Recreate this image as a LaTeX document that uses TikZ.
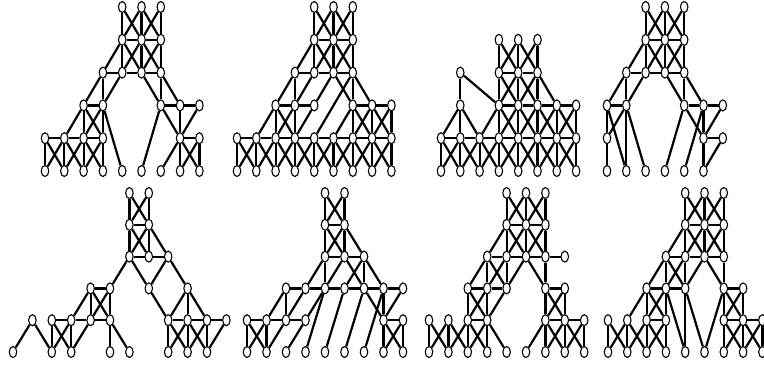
\documentclass[tikz,border=0pt]{standalone}
\usetikzlibrary{shapes.geometric}
\tikzset{vtx/.style={ellipse,draw,fill=white,line width=1.1pt,inner sep=0pt,minimum width=7.5pt,minimum height=11pt},
 edg/.style={line width=2.2pt}}
\newcommand\Nds[6]{\foreach \r/\c in {#6}{\node[vtx] (#1-\r-\c) at ({#2+\c*#4},{#3+\r*#5}) {};}}
\newcommand\vX[4]{\pgfmathtruncatemacro\myrr{#2+1}\pgfmathtruncatemacro\mylc{#4-1}%
 \foreach \c in {#3,...,#4}{\draw[edg] (#1-#2-\c) -- (#1-\myrr-\c);}%
 \foreach \c in {#3,...,\mylc}{\pgfmathtruncatemacro\mycc{\c+1}\draw[edg] (#1-#2-\c) -- (#1-\myrr-\mycc); \draw[edg] (#1-#2-\mycc) -- (#1-\myrr-\c);}}
\newcommand\hC[4]{\pgfmathtruncatemacro\mylc{#4-1}\foreach \c in {#3,...,\mylc}{\pgfmathtruncatemacro\mycc{\c+1}\draw[edg] (#1-#2-\c) -- (#1-#2-\mycc);}}
\newcommand\Ed[2]{\foreach \ra/\ca/\rb/\cb in {#2}{\draw[edg] (#1-\ra-\ca) -- (#1-\rb-\cb);}}
\begin{document}
\begin{tikzpicture}[x=1pt,y=-1pt]
\useasboundingbox[fill=white] (0,0) rectangle (764,365);
% ---------- Panel 1 ----------
\Nds{P1}{45}{7}{19.3}{32.8}{0/4,0/5,0/6,1/4,1/5,1/6,2/3,2/4,2/5,2/6,3/2,3/3,3/6,3/7,3/8,4/0,4/1,4/2,4/3,4/7,4/8,5/0,5/1,5/2,5/3,5/4,5/5,5/6,5/7,5/8}
\vX{P1}{0}{4}{6}\hC{P1}{1}{4}{6}\vX{P1}{1}{4}{6}\Ed{P1}{1/4/2/3}
\hC{P1}{2}{3}{6}
\Ed{P1}{2/3/3/2,2/3/3/3,2/4/3/3,2/5/3/6,2/6/3/6,2/6/3/7}
\hC{P1}{3}{2}{3}\hC{P1}{3}{6}{8}
\vX{P1}{3}{2}{3}
\Ed{P1}{3/2/4/1,3/3/5/4,3/6/5/5,3/6/4/7,3/7/4/7,3/8/4/7}
\hC{P1}{4}{0}{3}\hC{P1}{4}{7}{8}
\vX{P1}{4}{0}{3}\vX{P1}{4}{7}{8}\Ed{P1}{4/7/5/6}
% ---------- Panel 2 ----------
\Nds{P2}{237}{7}{19.3}{32.8}{0/4,0/5,0/6,1/4,1/5,1/6,2/3,2/4,2/5,2/6,3/2,3/3,3/4,3/6,3/7,3/8,4/0,4/1,4/2,4/3,4/4,4/5,4/6,4/7,4/8,5/0,5/1,5/2,5/3,5/4,5/5,5/6,5/7,5/8}
\vX{P2}{0}{4}{6}\hC{P2}{1}{4}{6}\vX{P2}{1}{4}{6}\Ed{P2}{1/4/2/3}
\hC{P2}{2}{3}{6}
\Ed{P2}{2/3/3/2,2/3/3/3,2/4/3/3,2/5/3/4,2/5/3/6,2/6/3/6,2/6/3/7,2/6/4/4}
\hC{P2}{3}{2}{4}\hC{P2}{3}{6}{8}
\vX{P2}{3}{2}{3}\Ed{P2}{3/2/4/1,3/4/4/3,3/6/4/5}\vX{P2}{3}{6}{8}
\hC{P2}{4}{0}{8}
\vX{P2}{4}{0}{8}
% ---------- Panel 3 ----------
\Nds{P3}{441}{7}{19.3}{32.8}{1/3,1/4,1/5,2/1,2/3,2/4,2/5,3/1,3/3,3/4,3/5,3/6,3/7,4/0,4/1,4/2,4/3,4/4,4/5,4/6,4/7,5/0,5/1,5/2,5/3,5/4,5/5,5/6,5/7}
\vX{P3}{1}{3}{5}\hC{P3}{2}{3}{5}\vX{P3}{2}{3}{5}
\Ed{P3}{2/1/3/3,2/1/3/1,2/5/3/6}
\hC{P3}{3}{3}{7}
\Ed{P3}{3/1/4/0,3/1/4/1,3/1/4/2,3/3/4/2}
\vX{P3}{3}{3}{7}
\hC{P3}{4}{0}{7}
\vX{P3}{4}{0}{7}
% ---------- Panel 4 ----------
\Nds{P4}{607}{7}{19.3}{32.8}{0/2,0/3,0/4,1/2,1/3,1/4,2/1,2/2,2/3,2/4,3/0,3/1,3/4,3/5,3/6,4/0,4/5,4/6,5/0,5/1,5/2,5/3,5/4,5/5}
\vX{P4}{0}{2}{4}\hC{P4}{1}{2}{4}\vX{P4}{1}{2}{4}\Ed{P4}{1/2/2/1}
\hC{P4}{2}{1}{4}
\Ed{P4}{2/1/3/0,2/1/3/1,2/2/3/1,2/3/3/4,2/4/3/4,2/4/3/5}
\hC{P4}{3}{0}{1}\hC{P4}{3}{4}{6}
\Ed{P4}{3/0/4/0,3/1/4/0,3/0/5/1,3/1/5/1,3/1/5/2,3/4/5/3,3/5/5/4,3/5/4/5,3/4/4/5,3/6/4/5}
\hC{P4}{4}{5}{6}
\Ed{P4}{4/0/5/0,4/5/5/5,4/6/5/5}
% ---------- Panel 5 ----------
\Nds{P5}{13}{193}{19.4}{31.8}{0/6,0/7,1/6,1/7,2/6,2/7,2/8,3/4,3/5,3/7,3/9,4/1,4/2,4/3,4/4,4/5,4/8,4/9,4/10,4/11,5/0,5/2,5/3,5/5,5/6,5/8,5/9,5/10}
\vX{P5}{0}{6}{7}\hC{P5}{1}{6}{7}\vX{P5}{1}{6}{7}\Ed{P5}{1/7/2/8}
\hC{P5}{2}{6}{8}
\Ed{P5}{2/6/3/5,2/6/3/7,2/8/3/7,2/8/3/9}
\hC{P5}{3}{4}{5}
\vX{P5}{3}{4}{5}\Ed{P5}{3/4/4/3,3/7/4/8,3/9/4/8,3/9/4/9,3/9/4/10}
\hC{P5}{4}{2}{5}\hC{P5}{4}{8}{11}
\Ed{P5}{4/1/5/0,4/1/5/2,4/2/5/2,4/2/5/3,4/3/5/2,4/3/5/3,4/4/5/3,4/5/5/5,4/5/5/6}
\vX{P5}{4}{8}{10}\Ed{P5}{4/11/5/10}
% ---------- Panel 6 ----------
\Nds{P6}{247}{193}{19.5}{31.8}{0/4,0/5,1/4,1/5,2/4,2/5,2/6,3/2,3/3,3/4,3/5,3/6,3/7,3/8,4/0,4/1,4/2,4/3,4/7,4/8,5/0,5/1,5/2,5/3,5/4,5/5,5/6,5/7,5/8}
\vX{P6}{0}{4}{5}\hC{P6}{1}{4}{5}\vX{P6}{1}{4}{5}\Ed{P6}{1/5/2/6}
\hC{P6}{2}{4}{6}
\Ed{P6}{2/4/3/3,2/4/3/4,2/5/3/4,2/5/3/6,2/6/3/5,2/6/3/6,2/6/3/7}
\hC{P6}{3}{2}{8}
\Ed{P6}{3/2/4/1,3/2/4/2,3/3/4/2,3/4/4/3,3/4/5/3,3/5/5/4,3/6/5/5,3/7/5/6,3/6/4/7,3/7/4/7,3/8/4/7}
\hC{P6}{4}{0}{3}\hC{P6}{4}{7}{8}
\vX{P6}{4}{0}{1}\Ed{P6}{4/2/5/1,4/3/5/2}\vX{P6}{4}{7}{8}
% ---------- Panel 7 ----------
\Nds{P7}{429}{193}{19.4}{31.8}{0/4,0/5,0/6,1/4,1/5,1/6,2/3,2/4,2/5,2/6,2/7,3/2,3/3,3/4,3/6,3/7,4/0,4/1,4/2,4/3,4/6,4/7,4/8,5/0,5/1,5/2,5/3,5/4,5/5,5/6,5/7,5/8}
\vX{P7}{0}{4}{6}\hC{P7}{1}{4}{6}\vX{P7}{1}{4}{6}\Ed{P7}{1/4/2/3}
\hC{P7}{2}{3}{7}
\vX{P7}{2}{3}{4}\Ed{P7}{2/3/3/2,2/5/3/4,2/5/3/6,2/6/3/6}
\hC{P7}{3}{2}{4}\hC{P7}{3}{6}{7}
\vX{P7}{3}{2}{3}\Ed{P7}{3/4/4/3}\vX{P7}{3}{6}{7}
\hC{P7}{4}{2}{3}\hC{P7}{4}{6}{8}
\vX{P7}{4}{0}{3}\Ed{P7}{4/3/5/4,4/6/5/5}\vX{P7}{4}{6}{8}
% ---------- Panel 8 ----------
\Nds{P8}{608}{193}{19.3}{31.8}{0/4,0/5,0/6,1/4,1/5,1/6,2/3,2/4,2/5,2/6,3/2,3/3,3/4,3/6,3/7,4/0,4/1,4/2,4/3,4/6,4/7,4/8,5/0,5/1,5/2,5/3,5/4,5/5,5/6,5/7,5/8}
\vX{P8}{0}{4}{6}\hC{P8}{1}{4}{6}\vX{P8}{1}{4}{6}\Ed{P8}{1/4/2/3}
\hC{P8}{2}{3}{6}
\vX{P8}{2}{3}{4}\Ed{P8}{2/3/3/2,2/5/3/4,2/5/3/6,2/6/3/6}
\hC{P8}{3}{2}{4}\hC{P8}{3}{6}{7}
\vX{P8}{3}{2}{3}\Ed{P8}{3/2/4/1,3/3/5/4,3/4/5/4,3/4/5/5,3/6/5/5}\vX{P8}{3}{6}{7}
\hC{P8}{4}{2}{3}\hC{P8}{4}{6}{8}
\vX{P8}{4}{0}{3}\vX{P8}{4}{6}{8}
\end{tikzpicture}
\end{document}
